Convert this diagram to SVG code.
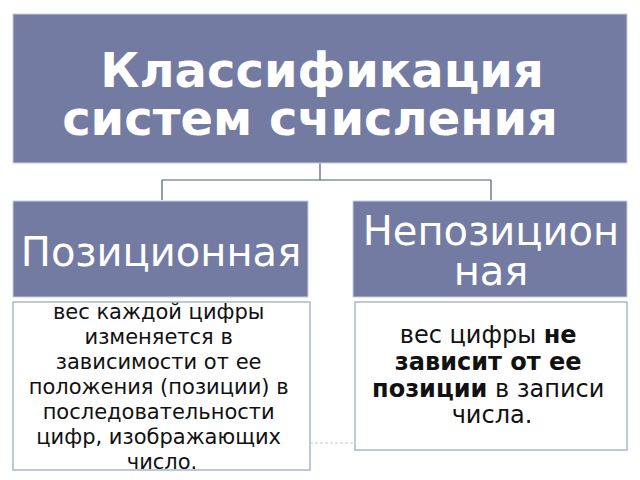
<svg xmlns="http://www.w3.org/2000/svg" width="640" height="480" viewBox="0 0 640 480">
<style>
.hdr{fill:#737ba3;stroke:#c8cde0;stroke-width:1}
.txtbox{fill:#ffffff;stroke:#a9b6cc;stroke-width:1.5}
.w{fill:#ffffff;font-family:"DejaVu Sans",sans-serif;text-anchor:middle}
.b{fill:#111111;font-family:"DejaVu Sans",sans-serif;text-anchor:middle}
.con{fill:none;stroke:#4f5a7a;stroke-width:1.2}
</style>
<rect width="640" height="480" fill="#ffffff"/>
<g id="connectors">
<path class="con" d="M320 163 V180 M162 180 H491 M162 180 V200 M491 180 V200"/>
<line x1="310" y1="443" x2="355" y2="443" stroke="#c4c8cc" stroke-width="1" stroke-dasharray="3 2"/>
</g>
<g id="root">
<rect class="hdr" x="13" y="14" width="614" height="149"/>
<text class="w" x="322" y="87" font-size="48" font-weight="bold">Классификация</text>
<text class="w" x="310" y="135" font-size="48" font-weight="bold">систем счисления</text>
</g>
<g id="positional">
<rect class="hdr" x="13" y="201" width="295" height="96"/>
<text class="w" x="161" y="266" font-size="40">Позиционная</text>
</g>
<g id="nonpositional">
<rect class="hdr" x="353" y="201" width="274" height="96"/>
<text class="w" x="491" y="245" font-size="40">Непозицион</text>
<text class="w" x="491" y="285" font-size="40">ная</text>
</g>
<g id="positional-desc">
<rect class="txtbox" x="13" y="302" width="297" height="168"/>
<text class="b" font-size="21">
<tspan x="162" y="319">вес каждой цифры</tspan>
<tspan x="162" y="344">изменяется в</tspan>
<tspan x="162" y="369">зависимости от ее</tspan>
<tspan x="162" y="394">положения (позиции) в</tspan>
<tspan x="162" y="419">последовательности</tspan>
<tspan x="162" y="444">цифр, изображающих</tspan>
<tspan x="162" y="469">число.</tspan>
</text>
</g>
<g id="nonpositional-desc">
<rect class="txtbox" x="355" y="302" width="272" height="148"/>
<text class="b" font-size="24">
<tspan x="492" y="343">вес цифры <tspan font-weight="bold">не</tspan></tspan>
<tspan x="492" y="370" font-weight="bold">зависит от ее</tspan>
<tspan x="492" y="397"><tspan font-weight="bold">позиции</tspan> в записи</tspan>
<tspan x="492" y="423">числа.</tspan>
</text>
</g>
</svg>
